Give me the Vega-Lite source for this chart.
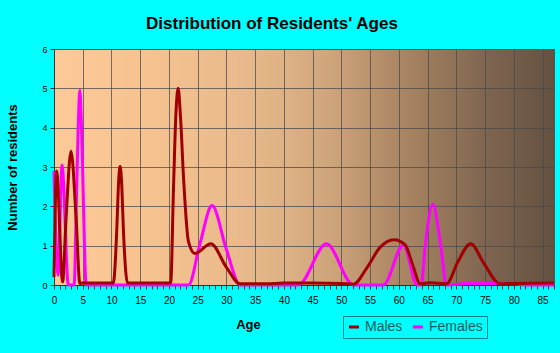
{
  "$schema": "https://vega.github.io/schema/vega-lite/v6.json",
  "width": 500,
  "height": 236,
  "autosize": {"type": "none"},
  "padding": {"left": 54, "top": 49, "right": 6, "bottom": 68},
  "background": "#00FFFF",
  "title": {
    "text": "Distribution of Residents' Ages",
    "font": "Liberation Sans",
    "fontSize": 17,
    "fontWeight": "bold",
    "color": "#000000",
    "anchor": "middle",
    "dx": -32,
    "offset": 12
  },
  "config": {
    "view": {
      "stroke": "#555555",
      "strokeWidth": 1,
      "fill": {
        "gradient": "linear",
        "x1": 0, "y1": 0, "x2": 1, "y2": 0,
        "stops": [
          {"offset": 0, "color": "#FDC998"},
          {"offset": 0.2, "color": "#F5C28F"},
          {"offset": 0.35, "color": "#EBBB8D"},
          {"offset": 0.45, "color": "#DFB385"},
          {"offset": 0.55, "color": "#CFA57B"},
          {"offset": 0.65, "color": "#B58E6A"},
          {"offset": 0.75, "color": "#9C7B5C"},
          {"offset": 0.87, "color": "#7D6450"},
          {"offset": 1, "color": "#645140"}
        ]
      }
    },
    "font": "Liberation Sans"
  },
  "data": {
    "values": [
      {"age": 0, "n": 2.9, "sex": "Females"},
      {"age": 0.7, "n": 0.25, "sex": "Females"},
      {"age": 1.4, "n": 3.05, "sex": "Females"},
      {"age": 2.5, "n": 0, "sex": "Females"},
      {"age": 3.5, "n": 0, "sex": "Females"},
      {"age": 3.95, "n": 2.5, "sex": "Females"},
      {"age": 4.25, "n": 4.2, "sex": "Females"},
      {"age": 4.5, "n": 4.95, "sex": "Females"},
      {"age": 4.75, "n": 4.2, "sex": "Females"},
      {"age": 5.05, "n": 2.5, "sex": "Females"},
      {"age": 5.6, "n": 0, "sex": "Females"},
      {"age": 23.4, "n": 0, "sex": "Females"},
      {"age": 25.4, "n": 1.05, "sex": "Females"},
      {"age": 27.5, "n": 2.02, "sex": "Females"},
      {"age": 30, "n": 0.9, "sex": "Females"},
      {"age": 32.4, "n": 0, "sex": "Females"},
      {"age": 42.5, "n": 0, "sex": "Females"},
      {"age": 47.4, "n": 1.05, "sex": "Females"},
      {"age": 52.1, "n": 0, "sex": "Females"},
      {"age": 57.3, "n": 0, "sex": "Females"},
      {"age": 60.8, "n": 1.02, "sex": "Females"},
      {"age": 63.2, "n": 0, "sex": "Females"},
      {"age": 63.9, "n": 0, "sex": "Females"},
      {"age": 64.6, "n": 1.0, "sex": "Females"},
      {"age": 65.9, "n": 2.05, "sex": "Females"},
      {"age": 67.3, "n": 1.0, "sex": "Females"},
      {"age": 68.3, "n": 0, "sex": "Females"},
      {"age": 72, "n": 0.04, "sex": "Females"},
      {"age": 80, "n": 0.04, "sex": "Females"},
      {"age": 82, "n": 0, "sex": "Females"},
      {"age": 87, "n": 0, "sex": "Females"},
      {"age": 0, "n": 0.2, "sex": "Males"},
      {"age": 0.45, "n": 2.9, "sex": "Males"},
      {"age": 1.5, "n": 0.08, "sex": "Males"},
      {"age": 2.1, "n": 1.7, "sex": "Males"},
      {"age": 2.96, "n": 3.4, "sex": "Males"},
      {"age": 3.85, "n": 1.7, "sex": "Males"},
      {"age": 4.5, "n": 0.04, "sex": "Males"},
      {"age": 5, "n": 0.05, "sex": "Males"},
      {"age": 10.3, "n": 0.05, "sex": "Males"},
      {"age": 10.95, "n": 1.5, "sex": "Males"},
      {"age": 11.2, "n": 2.5, "sex": "Males"},
      {"age": 11.5, "n": 3.02, "sex": "Males"},
      {"age": 11.8, "n": 2.5, "sex": "Males"},
      {"age": 12.05, "n": 1.5, "sex": "Males"},
      {"age": 12.8, "n": 0.05, "sex": "Males"},
      {"age": 20.3, "n": 0.05, "sex": "Males"},
      {"age": 20.8, "n": 2.5, "sex": "Males"},
      {"age": 21.2, "n": 4.3, "sex": "Males"},
      {"age": 21.6, "n": 5.0, "sex": "Males"},
      {"age": 22.0, "n": 4.3, "sex": "Males"},
      {"age": 22.55, "n": 2.7, "sex": "Males"},
      {"age": 23.4, "n": 1.1, "sex": "Males"},
      {"age": 24.5, "n": 0.8, "sex": "Males"},
      {"age": 27.3, "n": 1.05, "sex": "Males"},
      {"age": 30, "n": 0.45, "sex": "Males"},
      {"age": 32.4, "n": 0.03, "sex": "Males"},
      {"age": 37, "n": 0.03, "sex": "Males"},
      {"age": 40, "n": 0.05, "sex": "Males"},
      {"age": 45, "n": 0.05, "sex": "Males"},
      {"age": 50, "n": 0.04, "sex": "Males"},
      {"age": 52.1, "n": 0.02, "sex": "Males"},
      {"age": 54.5, "n": 0.45, "sex": "Males"},
      {"age": 56.7, "n": 0.95, "sex": "Males"},
      {"age": 59.2, "n": 1.15, "sex": "Males"},
      {"age": 61.1, "n": 1.02, "sex": "Males"},
      {"age": 62.5, "n": 0.47, "sex": "Males"},
      {"age": 63.7, "n": 0.03, "sex": "Males"},
      {"age": 65.5, "n": 0.06, "sex": "Males"},
      {"age": 68.3, "n": 0.03, "sex": "Males"},
      {"age": 70.3, "n": 0.6, "sex": "Males"},
      {"age": 72.5, "n": 1.05, "sex": "Males"},
      {"age": 74.8, "n": 0.55, "sex": "Males"},
      {"age": 77.6, "n": 0.03, "sex": "Males"},
      {"age": 80, "n": 0.04, "sex": "Males"},
      {"age": 87, "n": 0.05, "sex": "Males"}
    ]
  },
  "mark": {"type": "line", "interpolate": "monotone", "strokeWidth": 3},
  "encoding": {
    "x": {
      "field": "age",
      "type": "quantitative",
      "scale": {"domain": [0, 87], "nice": false, "zero": false},
      "axis": {
        "title": "Age",
        "titleFont": "Liberation Sans",
        "titleFontSize": 13,
        "titleFontWeight": "bold",
        "titleColor": "#000000",
        "titleX": 194,
        "titleY": 39,
        "titleBaseline": "middle",
        "titleAlign": "center",
        "values": [0,1,2,3,4,5,6,7,8,9,10,11,12,13,14,15,16,17,18,19,20,21,22,23,24,25,26,27,28,29,30,31,32,33,34,35,36,37,38,39,40,41,42,43,44,45,46,47,48,49,50,51,52,53,54,55,56,57,58,59,60,61,62,63,64,65,66,67,68,69,70,71,72,73,74,75,76,77,78,79,80,81,82,83,84,85,86,87],
        "labelExpr": "datum.value % 5 === 0 ? datum.label : ''",
        "labelFontSize": 10,
        "labelColor": "#000000",
        "labelPadding": 6,
        "labelFlush": false,
        "labelOverlap": false,
        "tickSize": 4,
        "tickColor": "#333333",
        "domainColor": "#333333",
        "gridColor": "#4a4a4a",
        "gridOpacity": {"condition": {"test": "datum.value % 5 === 0", "value": 0.75}, "value": 0}
      }
    },
    "y": {
      "field": "n",
      "type": "quantitative",
      "scale": {"domain": [0, 6], "nice": false},
      "axis": {
        "title": "Number of residents",
        "titleFont": "Liberation Sans",
        "titleFontSize": 13,
        "titleFontWeight": "bold",
        "titleColor": "#000000",
        "titleX": -42,
        "titleY": 118,
        "titleAngle": -90,
        "titleAlign": "center",
        "titleBaseline": "middle",
        "values": [0,1,2,3,4,5,6],
        "labelFontSize": 9,
        "labelColor": "#000000",
        "labelPadding": 3,
        "tickSize": 4,
        "tickColor": "#333333",
        "domainColor": "#333333",
        "gridColor": "#4a4a4a",
        "gridOpacity": 0.75
      }
    },
    "color": {
      "field": "sex",
      "type": "nominal",
      "sort": ["Males", "Females"],
      "scale": {"domain": ["Males", "Females"], "range": ["#A00000", "#FF00FF"]},
      "legend": {
        "title": null,
        "orient": "none",
        "legendX": 289,
        "legendY": 267,
        "direction": "horizontal",
        "strokeColor": "#008080",
        "fillColor": "#00FFFF",
        "padding": 4,
        "symbolType": "stroke",
        "symbolStrokeWidth": 3,
        "symbolSize": 100,
        "labelFontSize": 14,
        "labelColor": "#0B5B5B",
        "labelFont": "Liberation Sans",
        "columnPadding": 4,
        "labelOffset": 4
      }
    }
  }
}
